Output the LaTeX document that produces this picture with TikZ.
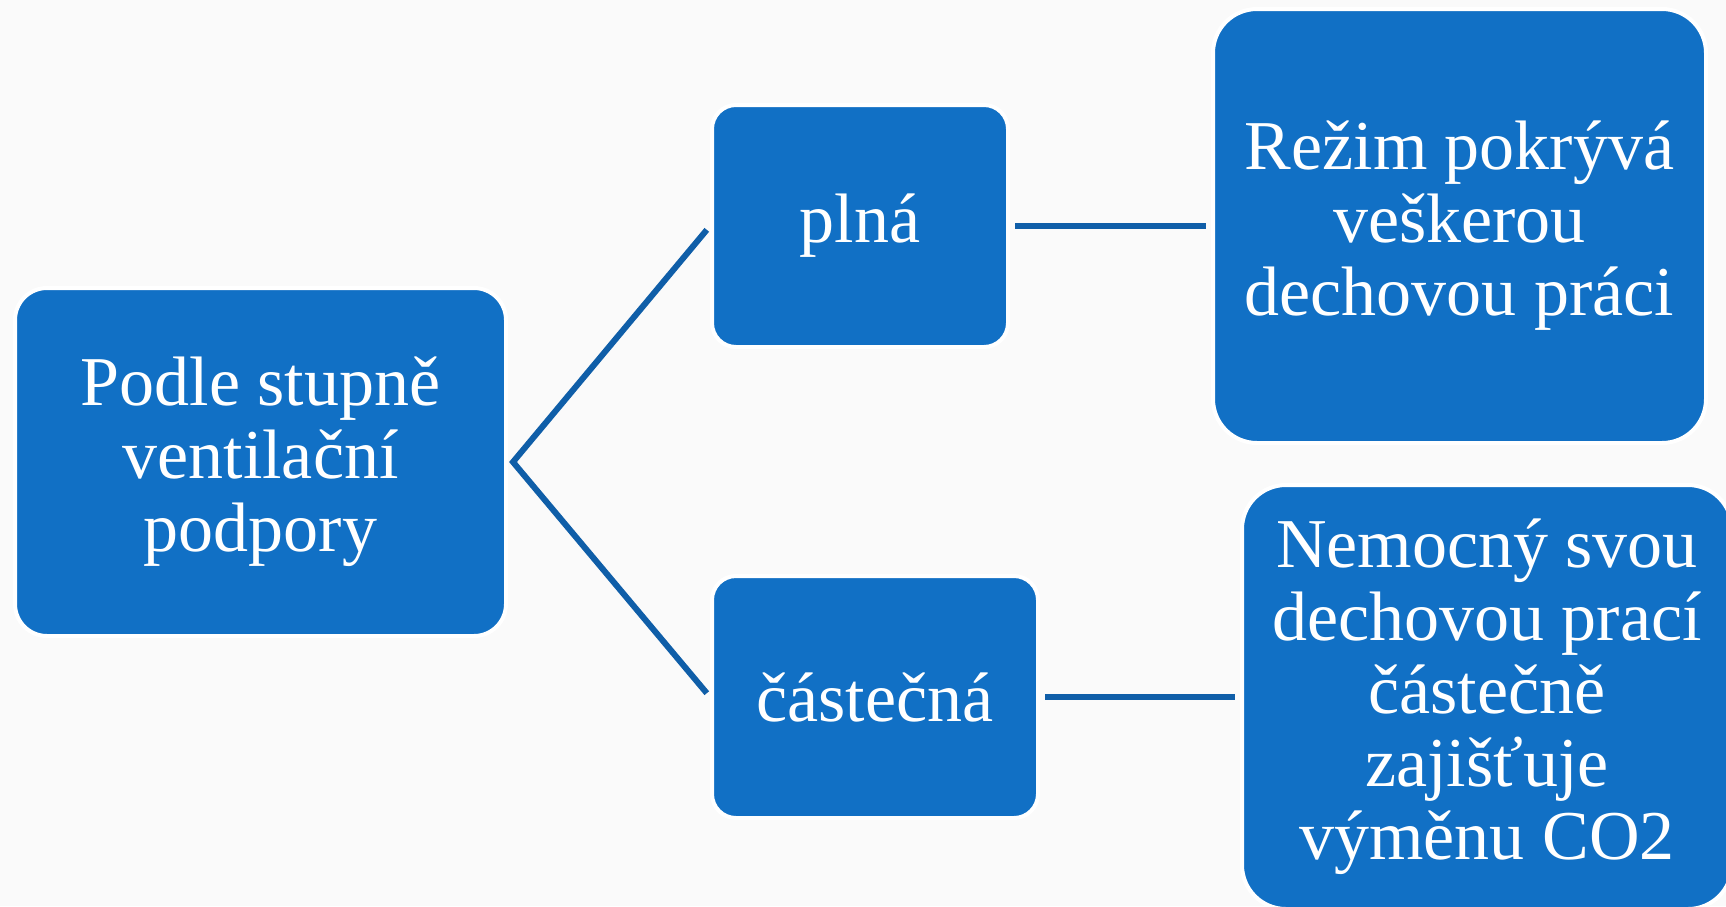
\documentclass[tikz,border=0pt]{standalone}
\usepackage{fontspec}
\setmainfont{Liberation Serif}
\definecolor{boxblue}{HTML}{1170C5}
\definecolor{lineblue}{HTML}{0F5EA8}
\definecolor{bg}{HTML}{FAFAFA}
\tikzset{
  box/.style={rectangle, fill=boxblue, draw=white, line width=4pt, inner sep=0pt,
    text=white, align=center, font=\fontsize{70}{73}\selectfont},
  link/.style={draw=lineblue, line width=6pt, line join=miter, shorten <=5pt, shorten >=5pt}
}
\begin{document}
\begin{tikzpicture}[x=1pt,y=-1pt]
\fill[bg] (0,0) rectangle (1726,906);
\useasboundingbox (0,0) rectangle (1726,906);
\node[box, minimum width=491pt, minimum height=348pt, rounded corners=32pt] (root) at (260.5,462) {Podle stupně\\ventilační\\podpory};
\node[box, minimum width=296pt, minimum height=242pt, rounded corners=24pt] (plna) at (860,226) {plná};
\node[box, minimum width=326pt, minimum height=242pt, rounded corners=24pt] (cast) at (875,697) {částečná};
\node[box, minimum width=493pt, minimum height=434pt, rounded corners=44pt] (rezim) at (1459.5,226) {Režim pokrývá\\veškerou\\dechovou práci};
\node[box, minimum width=490pt, minimum height=424pt, rounded corners=44pt] (nemoc) at (1487,697) {Nemocný svou\\dechovou prací\\částečně\\zajišťuje\\výměnu CO2};
\coordinate (fork) at ([xshift=5pt]root.east);
\draw[link] (plna.west) -- (fork) -- (cast.west);
\draw[link] (plna.east) -- (rezim.west);
\draw[link] (cast.east) -- (nemoc.west);
\end{tikzpicture}
\end{document}
